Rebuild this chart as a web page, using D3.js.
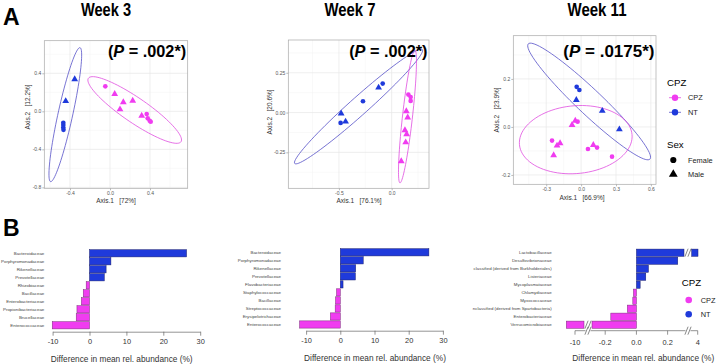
<!DOCTYPE html>
<html lang="en">
<head>
<meta charset="UTF-8">
<title>CPZ vs NT - beta diversity and family differences</title>
<script src="https://d3js.org/d3.v7.min.js"></script>
<style>
  body { margin: 0; background: #fff; }
  svg text { font-family: "Liberation Sans", Arial, sans-serif; }
  .narrow { font-weight: bold; }
</style>
</head>
<body>
<div id="chart"></div>
<script>
// ---------- data: panel A (PCoA points: x, y, group, sex) ----------
const wk3Points = [
  [-0.353, 0.337, "NT", "M"], [-0.443, 0.108, "NT", "M"], [-0.467, -0.12, "NT", "F"],
  [-0.467, -0.145, "NT", "F"], [-0.467, -0.17, "NT", "F"], [-0.465, -0.195, "NT", "F"],
  [-0.047, 0.263, "CPZ", "F"], [0.047, 0.182, "CPZ", "M"], [0.133, 0.095, "CPZ", "M"],
  [0.227, 0.112, "CPZ", "M"], [0.10, 0.021, "CPZ", "M"], [0.317, -0.046, "CPZ", "M"],
  [0.367, -0.028, "CPZ", "F"], [0.377, -0.074, "CPZ", "F"], [0.397, -0.099, "CPZ", "F"],
  [0.407, -0.11, "CPZ", "F"]
];
const wk7Points = [
  [-0.479, -0.006, "NT", "M"], [-0.484, -0.065, "NT", "F"], [-0.437, -0.057, "NT", "M"],
  [-0.272, 0.071, "NT", "F"], [-0.124, 0.157, "NT", "M"], [-0.085, 0.182, "NT", "F"],
  [0.158, 0.113, "CPZ", "F"], [0.18, 0.098, "CPZ", "F"], [0.18, 0.073, "CPZ", "F"],
  [0.139, 0.008, "CPZ", "M"], [0.152, -0.031, "CPZ", "M"], [0.126, -0.111, "CPZ", "M"],
  [0.142, -0.136, "CPZ", "M"], [0.133, -0.187, "CPZ", "M"], [0.091, -0.306, "CPZ", "M"]
];
const wk11Points = [
  [-0.038, 0.167, "NT", "F"], [-0.015, 0.154, "NT", "F"], [-0.041, 0.112, "NT", "M"],
  [0.182, 0.067, "NT", "M"], [0.329, -0.01, "NT", "M"],
  [-0.05, 0.026, "CPZ", "M"], [-0.03, 0.022, "CPZ", "F"], [-0.078, 0.008, "CPZ", "M"],
  [-0.25, -0.057, "CPZ", "F"], [-0.181, -0.068, "CPZ", "M"], [-0.207, -0.078, "CPZ", "M"],
  [-0.236, -0.118, "CPZ", "M"], [0.059, -0.092, "CPZ", "F"], [0.105, -0.075, "CPZ", "M"],
  [0.137, -0.086, "CPZ", "F"], [0.266, -0.124, "CPZ", "F"]
];
// ellipses: group, centre x, centre y, major half-axis dx, dy, minor/major ratio
const wk3Ellipses = [["NT", -0.447, -0.035, 0.147, 0.705, 0.107], ["CPZ", 0.247, 0.014, 0.463, -0.334, 0.22]];
const wk7Ellipses = [["NT", -0.314, 0.038, 0.605, 0.358, 0.105], ["CPZ", 0.15, -0.025, 0.071, 0.417, 0.075]];
const wk11Ellipses = [["NT", 0.069, 0.106, 0.523, -0.24, 0.15], ["CPZ", -0.046, -0.053, 0.484, 0.021, 0.6]];

const weekTitles = ["Week 3", "Week 7", "Week 11"];
const pValues = [".002*", ".002*", ".0175*"];
const axisPct = [["72%", "12.2%"], ["76.1%", "20.6%"], ["66.9%", "23.9%"]];

// ---------- data: panel B (difference in mean rel. abundance, %) ----------
const wk3Families = ["Bacteroidaceae", "Porphyromonadaceae", "Rikenellaceae", "Prevotellaceae", "Rhizobiaceae",
  "Bacillaceae", "Enterobacteriaceae", "Propionibacteriaceae", "Brucellaceae", "Enterococcaceae"];
const wk3Diff = [26.3, 5.8, 4.5, 4.0, -0.9, -1.7, -2.2, -3.4, -3.6, -10.1];
const wk7Families = ["Bacteroidaceae", "Porphyromonadaceae", "Rikenellaceae", "Prevotellaceae", "Flavobacteriaceae",
  "Staphylococcaceae", "Bacillaceae", "Streptococcaceae", "Erysipelotrichaceae", "Enterococcaceae"];
const wk7Diff = [25.9, 6.7, 4.5, 4.4, 0.8, -1.1, -1.4, -1.5, -2.9, -11.9];
const wk11Families = ["Lactobacillaceae", "Desulfovibrionaceae", "classified (derived from Burkholderiales)",
  "Listeriaceae", "Mycoplasmataceae", "Chlamydiaceae", "Myxococcaceae",
  "nclassified (derived from Spartobacteria)", "Enterobacteriaceae", "Verrucomicrobiaceae"];
const wk11Diff = [4.02, 0.265, 0.077, 0.06, 0.024, -0.019, -0.023, -0.058, -0.164, -10.58];
const barTicks = [-10, 0, 10, 20, 30];
const brokenTicks = [-10, -0.2, 0.0, 0.2, 4];

const col = { CPZ: "#F03CF0", NT: "#1F3ADB" };
const ellCol = { CPZ: "#E04CE0", NT: "#5550C8" };
const barStroke = { CPZ: "#7A2A7A", NT: "#1A1F6E" };

const svg = d3.select("#chart").append("svg").attr("width", 719).attr("height", 364);

// panel letters
svg.append("text").attr("x", 3).attr("y", 25).attr("font-size", 23).attr("font-weight", "bold").text("A");
svg.append("text").attr("x", 3).attr("y", 236).attr("font-size", 23).attr("font-weight", "bold").text("B");

const pcoaPanels = [
  { pts: wk3Points, ell: wk3Ellipses, box: [44.3, 187.7, 40.7, 188.3], xDom: [-0.657, 0.777], yDom: [-0.81, 0.743],
    xTicks: [-0.4, 0, 0.4], xMinor: [-0.6, -0.2, 0.2, 0.6], yTicks: [-0.8, -0.4, 0, 0.4], yMinor: [-0.6, -0.2, 0.2, 0.6],
    dec: 1, titleX: 106, titleY: 15.5, titleW: 50, xt: [116, 201], yt: [28, 107] },
  { pts: wk7Points, ell: wk7Ellipses, box: [288.3, 429, 40, 188.3], xDom: [-0.98, 0.354], yDom: [-0.476, 0.456],
    xTicks: [-0.5, 0], xMinor: [-0.75, -0.25, 0.25], yTicks: [-0.25, 0, 0.25], yMinor: [-0.375, -0.125, 0.125, 0.375],
    dec: 2, xdec: 1, titleX: 350, titleY: 15.5, titleW: 51, xt: [359, 201], yt: [270, 112] },
  { pts: wk11Points, ell: wk11Ellipses, box: [513.3, 656, 35.7, 184.3], xDom: [-0.583, 0.644], yDom: [-0.239, 0.38],
    xTicks: [-0.3, 0, 0.3, 0.6], xMinor: [-0.45, -0.15, 0.15, 0.45], yTicks: [-0.2, 0, 0.2], yMinor: [-0.1, 0.1, 0.3],
    dec: 1, titleX: 597, titleY: 16.3, titleW: 59, xt: [582, 198], yt: [497, 110] }
];

pcoaPanels.forEach((p, i) => {
  const x = d3.scaleLinear().domain(p.xDom).range([p.box[0], p.box[1]]);
  const y = d3.scaleLinear().domain(p.yDom).range([p.box[3], p.box[2]]);
  const g = svg.append("g");
  const [x0, x1, y0, y1] = p.box;

  g.append("rect").attr("x", x0).attr("y", y0).attr("width", x1 - x0).attr("height", y1 - y0).attr("fill", "#fff");
  // grid
  g.selectAll(".gxm").data(p.xMinor).join("line")
    .attr("x1", d => x(d)).attr("x2", d => x(d)).attr("y1", y0).attr("y2", y1)
    .attr("stroke", "#F2F2F2").attr("stroke-width", 0.5);
  g.selectAll(".gym").data(p.yMinor).join("line")
    .attr("y1", d => y(d)).attr("y2", d => y(d)).attr("x1", x0).attr("x2", x1)
    .attr("stroke", "#F2F2F2").attr("stroke-width", 0.5);
  g.selectAll(".gx").data(p.xTicks).join("line")
    .attr("x1", d => x(d)).attr("x2", d => x(d)).attr("y1", y0).attr("y2", y1)
    .attr("stroke", "#E6E6E6").attr("stroke-width", 0.7);
  g.selectAll(".gy").data(p.yTicks).join("line")
    .attr("y1", d => y(d)).attr("y2", d => y(d)).attr("x1", x0).attr("x2", x1)
    .attr("stroke", "#E6E6E6").attr("stroke-width", 0.7);

  // axes
  const xa = g.append("g").attr("transform", `translate(0,${y1})`)
    .call(d3.axisBottom(x).tickValues(p.xTicks).tickSize(2).tickFormat(d => d.toFixed(p.xdec || p.dec)));
  const ya = g.append("g").attr("transform", `translate(${x0},0)`)
    .call(d3.axisLeft(y).tickValues(p.yTicks).tickSize(2).tickFormat(d => d.toFixed(p.dec)));
  [xa, ya].forEach(a => {
    a.select(".domain").remove();
    a.selectAll("line").attr("stroke", "#777").attr("stroke-width", 0.5);
    a.selectAll("text").attr("font-size", 5).attr("fill", "#555");
  });
  xa.selectAll("text").attr("dy", "0.9em").attr("y", 2);
  ya.selectAll("text").attr("x", -3);

  g.append("rect").attr("x", x0).attr("y", y0).attr("width", x1 - x0).attr("height", y1 - y0)
    .attr("fill", "none").attr("stroke", "#A8A8A8").attr("stroke-width", 0.7);

  // ellipses (centre + conjugate half-axes, traced through the scales)
  const ang = d3.range(0, 361, 4).map(a => a * Math.PI / 180);
  p.ell.forEach(e => {
    const cx = x(e[1]), cy = y(e[2]);
    const ax = x(e[1] + e[3]) - cx, ay = y(e[2] + e[4]) - cy;
    const bx = -ay * e[5], by = ax * e[5];
    g.append("path")
      .attr("d", d3.line()(ang.map(t => [cx + ax * Math.cos(t) + bx * Math.sin(t), cy + ay * Math.cos(t) + by * Math.sin(t)])))
      .attr("fill", "none").attr("stroke", ellCol[e[0]]).attr("stroke-width", 0.8);
  });

  // points
  g.selectAll(".pt").data(p.pts).join("path")
    .attr("transform", d => `translate(${x(d[0])},${y(d[1])})`)
    .attr("d", d => d3.symbol().type(d[3] === "F" ? d3.symbolCircle : d3.symbolTriangle).size(d[3] === "F" ? 17 : 20)())
    .attr("fill", d => col[d[2]]);

  // titles (condensed look via textLength)
  svg.append("text").attr("class", "narrow").attr("x", p.titleX).attr("y", p.titleY)
    .attr("text-anchor", "middle").attr("font-size", 18)
    .attr("textLength", p.titleW).attr("lengthAdjust", "spacingAndGlyphs").text(weekTitles[i]);
  const pt = svg.append("text").attr("x", x1 - 1.5).attr("y", 57).attr("text-anchor", "end")
    .attr("font-size", i === 2 ? 17 : 16.3).attr("font-weight", "bold");
  pt.append("tspan").text("(");
  pt.append("tspan").attr("font-style", "italic").text("P");
  pt.append("tspan").text(" = " + pValues[i] + ")");
  svg.append("text").attr("x", p.xt[0]).attr("y", p.xt[1] + 2).attr("text-anchor", "middle")
    .attr("font-size", 6.5).attr("fill", "#333").style("white-space", "pre").text(`Axis.1   [${axisPct[i][0]}]`);
  svg.append("text").attr("transform", `translate(${p.yt[0] + 2},${p.yt[1]}) rotate(-90)`).attr("text-anchor", "middle")
    .attr("font-size", 6.5).attr("fill", "#333").style("white-space", "pre").text(`Axis.2   [${axisPct[i][1]}]`);
});

// legend for panel A
const legA = svg.append("g");
legA.append("text").attr("x", 667).attr("y", 85.5).attr("font-size", 9.7).text("CPZ");
["CPZ", "NT"].forEach((k, i) => {
  const yy = 97.7 + i * 14.6;
  legA.append("line").attr("x1", 669).attr("x2", 681).attr("y1", yy).attr("y2", yy)
    .attr("stroke", ellCol[k]).attr("stroke-width", 0.8);
  legA.append("circle").attr("cx", 675).attr("cy", yy).attr("r", 3.2).attr("fill", col[k]);
  legA.append("text").attr("x", 688).attr("y", yy + 2.6).attr("font-size", 7.4).attr("fill", "#222").text(k);
});
legA.append("text").attr("x", 667).attr("y", 147.5).attr("font-size", 9.7).text("Sex");
[["Female", d3.symbolCircle], ["Male", d3.symbolTriangle]].forEach((k, i) => {
  const yy = 160 + i * 14.3;
  legA.append("path").attr("transform", `translate(673.3,${yy})`)
    .attr("d", d3.symbol().type(k[1]).size(i === 0 ? 30 : 34)()).attr("fill", "#000");
  legA.append("text").attr("x", 688).attr("y", yy + 2.6).attr("font-size", 7.4).attr("fill", "#222").text(k[0]);
});

// ---------- panel B ----------
function styleBarAxis(a) {
  a.select(".domain").attr("stroke", "#666").attr("stroke-width", 0.7);
  a.selectAll("line").attr("stroke", "#666").attr("stroke-width", 0.7);
  a.selectAll("text").attr("font-size", 7.4).attr("fill", "#333").attr("y", 7);
}
function catLabels(g, cats, y, lx) {
  g.selectAll(".cat").data(cats).join("text")
    .attr("x", lx).attr("y", d => y(d) + y.bandwidth() / 2 + 1.5)
    .attr("text-anchor", "end").attr("font-size", 4.4).attr("fill", "#444").text(d => d);
}
function axisTitle(cx, yy) {
  svg.append("text").attr("x", cx).attr("y", yy).attr("text-anchor", "middle")
    .attr("font-size", 8.3).attr("fill", "#333").text("Difference in mean rel. abundance (%)");
}

const barPanels = [
  { cats: wk3Families, vals: wk3Diff, zero: 89.5, ppu: 3.69, band: [249.3, 329.3], axisY: 331.7, lx: 44.3, tx: 121.7, ty: 361.5 },
  { cats: wk7Families, vals: wk7Diff, zero: 340.3, ppu: 3.42, band: [248.3, 328.5], axisY: 330.7, lx: 281, tx: 375, ty: 360.5 }
];
barPanels.forEach(b => {
  const x = d3.scaleLinear().domain([-10, 30]).range([b.zero - 10 * b.ppu, b.zero + 30 * b.ppu]);
  const y = d3.scaleBand().domain(b.cats).range(b.band).paddingInner(0.1).paddingOuter(0.05);
  const g = svg.append("g");
  g.selectAll(".bar").data(b.cats).join("rect")
    .attr("x", (d, i) => x(Math.min(0, b.vals[i]))).attr("y", d => y(d))
    .attr("width", (d, i) => Math.abs(x(b.vals[i]) - x(0))).attr("height", y.bandwidth())
    .attr("fill", (d, i) => b.vals[i] >= 0 ? col.NT : col.CPZ)
    .attr("stroke", (d, i) => b.vals[i] >= 0 ? barStroke.NT : barStroke.CPZ).attr("stroke-width", 0.5);
  catLabels(g, b.cats, y, b.lx);
  const a = g.append("g").attr("transform", `translate(0,${b.axisY})`)
    .call(d3.axisBottom(x).tickValues(barTicks).tickSize(4).tickSizeOuter(0).tickFormat(d3.format("d")));
  styleBarAxis(a);
  a.selectAll("text").text(d => String(d));
  axisTitle(b.tx, b.ty);
});

// week 11: broken axis with three linear pieces
const segs = [
  d3.scaleLinear().domain([-10.6, -9.4]).range([566, 584]),
  d3.scaleLinear().domain([-0.2846, 0.305]).range([592, 684]),
  d3.scaleLinear().domain([3.6, 4.1]).range([691.7, 699.2])
];
function segOf(v) { return v < segs[1].domain()[0] ? segs[0] : v > segs[1].domain()[1] ? segs[2] : segs[1]; }
const y11 = d3.scaleBand().domain(wk11Families).range([248.7, 328.7]).paddingInner(0.1).paddingOuter(0.05);
const g11 = svg.append("g");
const pieces = [];
wk11Families.forEach((c, i) => {
  const v = wk11Diff[i], s = segs[1], z = s(0);
  if (v > s.domain()[1]) {
    pieces.push([c, v, z, s.range()[1]], [c, v, segs[2].range()[0], segs[2](v)]);
  } else if (v < s.domain()[0]) {
    pieces.push([c, v, s.range()[0], z], [c, v, segs[0](v), segs[0].range()[1]]);
  } else {
    pieces.push([c, v, Math.min(z, s(v)), Math.max(z, s(v))]);
  }
});
g11.selectAll(".bar").data(pieces).join("rect")
  .attr("x", d => d[2]).attr("y", d => y11(d[0])).attr("width", d => d[3] - d[2]).attr("height", y11.bandwidth())
  .attr("fill", d => d[1] >= 0 ? col.NT : col.CPZ)
  .attr("stroke", d => d[1] >= 0 ? barStroke.NT : barStroke.CPZ).attr("stroke-width", 0.5);
catLabels(g11, wk11Families, y11, 551.7);

const ax11Y = 330.7;
const axLines = [[segs[0](-10), 585.5], [590.5, 685.5], [690.5, segs[2](4)]];
g11.selectAll(".axl").data(axLines).join("line")
  .attr("x1", d => d[0]).attr("x2", d => d[1]).attr("y1", ax11Y).attr("y2", ax11Y)
  .attr("stroke", "#666").attr("stroke-width", 0.7);
g11.selectAll(".tk").data(brokenTicks).join("line")
  .attr("x1", d => segOf(d)(d)).attr("x2", d => segOf(d)(d)).attr("y1", ax11Y).attr("y2", ax11Y + 4)
  .attr("stroke", "#666").attr("stroke-width", 0.7);
g11.selectAll(".tl").data(brokenTicks).join("text")
  .attr("x", d => segOf(d)(d)).attr("y", ax11Y + 14.5).attr("text-anchor", "middle")
  .attr("font-size", 7.4).attr("fill", "#333").text(d => Math.abs(d) >= 1 ? String(d) : d.toFixed(1));

// break marks "//" on the axis and across the broken bars
const breaks = [[588, ax11Y], [688, ax11Y],
  [588, y11(wk11Families[9]) + y11.bandwidth() / 2], [688, y11(wk11Families[0]) + y11.bandwidth() / 2]];
breaks.forEach(([bx, by]) => {
  [-1.5, 1.5].forEach(o => {
    g11.append("line").attr("x1", bx + o - 1.6).attr("y1", by + 4).attr("x2", bx + o + 1.6).attr("y2", by - 4)
      .attr("stroke", "#555").attr("stroke-width", 0.7);
  });
});
axisTitle(643.3, 361);

// legend for panel B
const legB = svg.append("g");
legB.append("text").attr("x", 681.7).attr("y", 285.8).attr("font-size", 9.7).text("CPZ");
["CPZ", "NT"].forEach((k, i) => {
  const yy = 300 + i * 14.3;
  legB.append("circle").attr("cx", 688.7).attr("cy", yy).attr("r", 3.3).attr("fill", col[k]);
  legB.append("text").attr("x", 700.7).attr("y", yy + 2.6).attr("font-size", 7.4).attr("fill", "#222").text(k);
});
</script>
</body>
</html>
